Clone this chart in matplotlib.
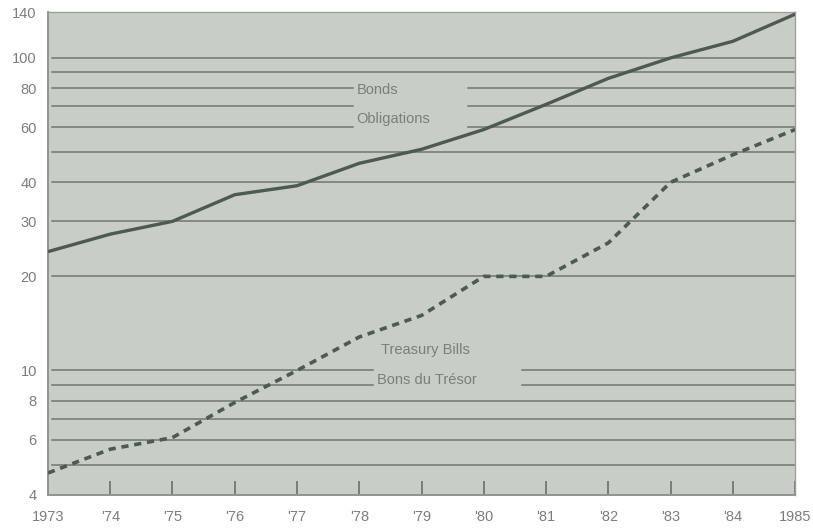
import numpy as np
import matplotlib.pyplot as plt
from matplotlib.ticker import FixedLocator, NullLocator

plt.rcParams['font.family'] = ['Liberation Sans', 'DejaVu Sans']

# -----------------------
# data
# -----------------------
years = [1973, 1974, 1975, 1976, 1977, 1978, 1979, 1980, 1981, 1982, 1983, 1984, 1985]
bonds = [24.0, 27.3, 30.0, 36.5, 39.0, 46.0, 51.0, 59.0, 71.0, 86.0, 100.0, 113.0, 138.0]
tbills = [4.7, 5.6, 6.1, 7.9, 10.0, 12.8, 15.0, 20.0, 20.0, 25.6, 40.0, 49.0, 59.0]

year_labels = ["1973", "'74", "'75", "'76", "'77", "'78", "'79", "'80", "'81", "'82", "'83", "'84", "1985"]
ytick_vals = [4, 6, 8, 10, 20, 30, 40, 60, 80, 100, 140]
grid_vals = [5, 6, 7, 8, 9, 10, 20, 30, 40, 50, 60, 70, 80, 90, 100]

# -----------------------
# style
# -----------------------
bg = "#c9cdc7"
line_col = "#4b5b50"
grid_col = "#6e7870"
text_col = "#7a7f7a"

fig = plt.figure(figsize=(8.13, 5.31), dpi=100)
ax = fig.add_axes([0.059, 0.068, 0.919, 0.909])
ax.set_facecolor(bg)

ax.set_yscale("log")
ax.set_ylim(4, 140)
ax.set_xlim(1973, 1985)

# gridlines, with gaps where the labels sit
gaps = {80: (0.408, 0.562), 70: (0.408, 0.562), 60: (0.408, 0.562),
        10: (0.435, 0.635), 9: (0.435, 0.635)}
for g in grid_vals:
    if g in gaps:
        a, b = gaps[g]
        ax.axhline(g, xmin=0.005, xmax=a, color=grid_col, lw=1.1, zorder=1)
        ax.axhline(g, xmin=b, xmax=1, color=grid_col, lw=1.1, zorder=1)
    else:
        ax.axhline(g, xmin=0.005, xmax=1, color=grid_col, lw=1.1, zorder=1)

ax.plot(years, bonds, color=line_col, lw=2.4, zorder=3, solid_capstyle="butt")
ax.plot(years, tbills, color=line_col, lw=2.6, zorder=3, linestyle=(0, (2.0, 1.6)))

ax.text(0.413, 0.838, "Bonds", transform=ax.transAxes, fontsize=10.5, color=text_col, va="center")
ax.text(0.413, 0.778, "Obligations", transform=ax.transAxes, fontsize=10.5, color=text_col, va="center")
ax.text(0.446, 0.300, "Treasury Bills", transform=ax.transAxes, fontsize=10.5, color=text_col, va="center")
ax.text(0.441, 0.238, "Bons du Trésor", transform=ax.transAxes, fontsize=10.5, color=text_col, va="center")

# axes / ticks
ax.xaxis.set_major_locator(FixedLocator(years))
ax.set_xticklabels(year_labels)
ax.tick_params(axis="x", direction="in", length=10, width=1.1, color="#5f6a62",
               labelcolor=text_col, labelsize=10.5, pad=11)

ax.yaxis.set_major_locator(FixedLocator(ytick_vals))
ax.yaxis.set_minor_locator(NullLocator())
ax.set_yticklabels([str(v) for v in ytick_vals])
ax.tick_params(axis="y", length=0, labelcolor=text_col, labelsize=10.5, pad=8)

for s in ["left", "bottom"]:
    ax.spines[s].set_color("#8e958f")
    ax.spines[s].set_linewidth(1.4)
for s in ["top", "right"]:
    ax.spines[s].set_color("#9aa09a")
    ax.spines[s].set_linewidth(1.0)

fig.savefig("out.png", dpi=100)
